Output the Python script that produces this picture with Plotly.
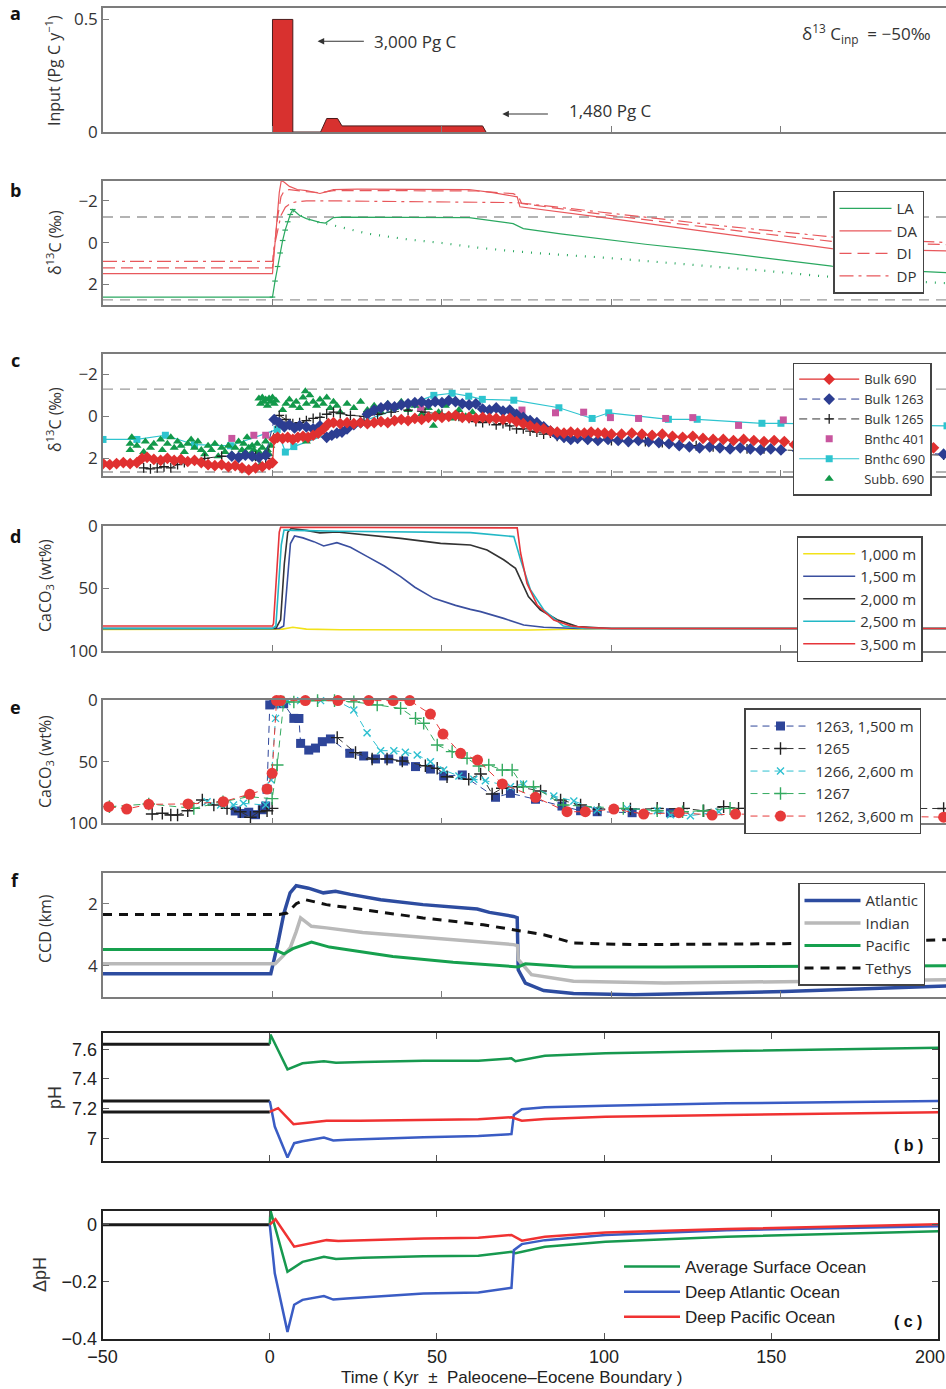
import plotly.graph_objects as go

W, H = 946, 1389
FONT = "Open Sans, Noto Sans, DejaVu Sans, sans-serif"
NARROW = "Liberation Sans, Arial, sans-serif"

# ---------------- DATA ----------------
# (a) carbon input, Pg C / yr
a_time = [0, 0, 6, 6, 14.2, 16, 19.2, 20.5, 62, 63]
a_input = [0, 0.5, 0.5, 0, 0, 0.06, 0.06, 0.027, 0.027, 0]

# (b) modelled d13C
b_la_x = [-50, 0, 0.75, 1.5, 2.25, 3, 3.75, 4.5, 5.25, 6, 8, 10, 12, 14, 15.6, 18, 20, 30, 40, 50, 58, 71, 73, 74, 85, 97.6, 110, 127, 145, 165, 180, 199]
b_la_y = [2.62, 2.62, 1.85, 1.15, 0.5, -0.1, -0.6, -1.0, -1.35, -1.59, -1.3, -1.15, -1.05, -0.97, -0.94, -1.2, -1.22, -1.22, -1.22, -1.22, -1.2, -0.91, -0.75, -0.67, -0.42, -0.16, 0.08, 0.37, 0.72, 1.13, 1.3, 1.45]
b_la_mx = [0, 0.75, 1.5, 2.25, 3, 3.75, 4.5, 5.25, 6]
b_la_my = [2.62, 1.85, 1.15, 0.5, -0.1, -0.6, -1.0, -1.35, -1.59]
b_dot_x = [6, 10, 14, 18, 28, 40, 50, 60.3, 70, 80, 97.6, 110, 127, 145, 162.5, 180, 199]
b_dot_y = [-1.5, -1.15, -0.95, -0.83, -0.43, -0.15, 0.02, 0.24, 0.4, 0.53, 0.72, 0.88, 1.09, 1.35, 1.62, 1.8, 1.95]
b_da_x = [-50, 0, 0.5, 1, 1.5, 2, 2.6, 3.5, 5, 7.3, 10, 12, 14, 16, 18, 25, 40, 58, 65, 71, 72.2, 73, 80, 100, 127, 165, 199]
b_da_y = [1.49, 1.49, 0.5, -0.5, -1.5, -2.4, -2.98, -2.9, -2.7, -2.55, -2.5, -2.42, -2.36, -2.45, -2.55, -2.57, -2.57, -2.55, -2.4, -2.23, -2.2, -1.72, -1.58, -1.15, -0.55, 0.29, 0.4]
b_di_x = [-50, 0, 0.5, 1.5, 2.5, 3.5, 5, 7, 10, 14, 18, 30, 60, 71, 72.5, 73.5, 100, 130, 165, 199]
b_di_y = [1.22, 1.22, 0.3, -1.2, -2.2, -2.5, -2.55, -2.5, -2.45, -2.4, -2.5, -2.5, -2.48, -2.35, -2.25, -1.88, -1.3, -0.7, -0.06, 0.1]
b_dp_x = [-50, 0, 0.5, 1.5, 2.5, 3.8, 5.5, 7, 10, 20, 40, 60, 72, 80, 100, 130, 165, 199]
b_dp_y = [0.9, 0.9, 0.2, -0.6, -1.3, -1.7, -1.9, -1.96, -2.0, -2.0, -1.98, -1.95, -1.92, -1.78, -1.4, -0.85, -0.27, 0.0]
b_ref_levels = [-1.23, 2.75]

# (c) measured d13C
c_b690_x = [-50, -48, -46, -44, -42, -40, -38.5, -37, -35, -33, -31, -29, -27, -25, -23, -21, -19, -17, -15, -13, -11, -9, -7, -5, -3, -1, 0,
            0.5, 1.5, 3, 4.5, 6, 7.5, 9, 10.5, 12, 13.5, 15, 16.5, 18, 20, 22, 24, 26, 28, 30, 32, 34, 36, 38, 40, 42, 44, 46, 48, 50,
            52, 54, 56, 58, 60, 62, 64, 66, 68, 70, 72, 74, 76, 78, 80, 82, 84, 86, 88, 90, 92, 94, 96, 98, 100, 103, 106, 109, 112,
            115, 118, 121, 124, 127, 130, 133, 136, 139, 142, 145, 148, 151, 154, 157, 160, 163, 166, 170, 175, 180, 185, 190, 195]
c_b690_y = [2.25, 2.3, 2.25, 2.2, 2.25, 2.2, 2.0, 1.95, 2.05, 2.1, 2.0, 2.1, 2.05, 2.15, 2.1, 2.2, 2.3, 2.35, 2.3, 2.4, 2.35, 2.45, 2.55, 2.45, 2.4, 2.3, 2.2,
            1.1, 1.0, 1.05, 1.0, 1.1, 1.0, 0.95, 1.0, 0.9, 0.8, 0.6, 0.35, 0.3, 0.35, 0.3, 0.35, 0.3, 0.35, 0.3, 0.25, 0.3, 0.2, 0.15, 0.2, 0.1, 0.15, 0.05, 0.0, 0.05,
            0.0, -0.05, 0.05, 0.05, 0.1, 0.05, 0.1, 0.1, 0.15, 0.1, 0.25, 0.35, 0.45, 0.55, 0.6, 0.7, 0.75, 0.8, 0.75, 0.8, 0.8, 0.75, 0.8, 0.8, 0.85, 0.85, 0.8, 0.85, 0.9,
            0.85, 0.95, 1.0, 0.95, 1.05, 1.1, 1.1, 1.15, 1.1, 1.15, 1.2, 1.15, 1.2, 1.35, 1.4, 1.35, 1.4, 1.45, 1.4, 1.45, 1.4, 1.5, 1.45, 1.5]
c_b1263_x = [-12, -10, -8, -6, -4, -2, 0.5, 2, 3.5, 5, 6.5, 8, 10, 12, 14, 16, 17.5, 19, 20.5, 22, 24, 26, 28, 30, 32, 34, 36, 38, 40, 42, 44, 46, 48,
             50, 52, 54, 56, 58, 60, 62, 64, 66, 68, 70, 72, 74, 76, 78, 80, 82, 84, 86, 88, 90, 93, 96, 99, 102, 105, 108, 111, 114, 117, 120,
             123, 126, 129, 132, 135, 138, 141, 144, 147, 150, 155, 160, 165, 170, 175, 180, 190, 198]
c_b1263_y = [1.9, 1.95, 1.85, 1.9, 1.95, 1.85, 0.15, 0.3, 0.5, 0.4, 0.55, 0.45, 0.5, 0.6, 0.45, 1.0, 0.9, 0.8, 0.75, 0.6, 0.4, 0.3, -0.1, -0.3, -0.4, -0.5, -0.45, -0.55, -0.6, -0.65, -0.7, -0.6, -0.7,
             -0.65, -0.75, -0.7, -0.6, -0.55, -0.6, -0.35, -0.3, -0.4, -0.25, -0.3, -0.1, 0.05, 0.2, 0.3, 0.5, 0.7, 0.9, 1.0, 1.1, 1.05, 1.1, 1.15, 1.1, 1.15, 1.2, 1.15, 1.2, 1.25, 1.3, 1.4,
             1.45, 1.5, 1.45, 1.5, 1.55, 1.5, 1.55, 1.6, 1.55, 1.6, 1.65, 1.6, 1.65, 1.7, 1.65, 1.7, 1.75, 1.8]
c_b1265_x = [-38, -36, -34, -32, -30, -28, -26, -20, -15, -10, -5, -2, 2, 4, 6, 8, 10, 12, 14, 16, 18, 20, 23, 27, 31, 35, 40, 45, 50, 55, 58, 60,
             62, 64, 66, 68, 70, 72, 74, 76, 78, 80, 82, 84, 86, 88, 90, 93, 96, 100, 105, 110, 115, 120, 125, 130, 135, 140, 145, 150, 160, 170, 180, 190, 198]
c_b1265_y = [2.45, 2.5, 2.45, 2.4, 2.45, 2.3, 2.2, 2.0, 1.9, 1.95, 1.9, 2.0, -0.05, 0.15, 0.35, 0.3, 0.2, 0.1, 0.05, -0.1, -0.2, -0.15, -0.05, 0.0, -0.1, -0.2, -0.3, -0.2, -0.1, 0.0, 0.1, 0.25,
             0.3, 0.2, 0.4, 0.35, 0.45, 0.6, 0.6, 0.7, 0.75, 0.85, 0.8, 0.95, 1.0, 1.05, 1.0, 1.1, 1.1, 1.15, 1.2, 1.2, 1.25, 1.35, 1.4, 1.45, 1.5, 1.55, 1.55, 1.6, 1.65, 1.7, 1.75, 1.8, 1.85]
c_bn401_x = [-12, -5.5, -2, 29.4, 43.7, 73.6, 83.5, 91.8, 99.7, 108, 116, 124, 137.5, 150.7]
c_bn401_y = [1.05, 0.9, 0.9, -0.22, -0.4, -0.3, -0.17, -0.2, 0.06, 0.1, 0.1, 0.06, 0.43, 0.17]
c_bn690_x = [-50, -40, -31.6, -23, -12.4, 1.4, 3.8, 6.3, 47.6, 53, 57.9, 61.9, 71.2, 84.5, 94.3, 99.2, 116.8, 125.3, 144.4, 150, 175, 199]
c_bn690_y = [1.1, 1.1, 0.9, 1.35, 1.4, 0.62, 1.7, 1.44, -1.0, -1.1, -0.96, -0.81, -0.77, -0.41, 0.1, -0.17, 0.14, 0.14, 0.33, 0.33, 0.4, 0.45]
c_sub690_x = [-42, -42, -41.5, -40, -38, -37.5, -36, -35, -33, -32.5, -31, -30, -29, -28, -27, -26, -25, -24, -23, -22, -21, -20, -19, -18, -17,
              -16, -15, -14, -13, -12, -11, -10, -9.5, -9, -8.5, -8, -7.5, -7, -6.5, -6, -5.5, -5, -4.5, -4, -3.5, -3, -2.5, -2, -1.5, -1, -0.5,
              -4, -3.5, -3, -2.5, -2, -1.5, -1, -0.5, 0, 0.5, 1, 3, 4, 5, 6, 7, 8, 9, 9.7, 10, 10, 11, 12, 13, 14, 15, 16, 17, 18, 19, 20, 22, 24, 26,
              28, 30, 32, 34, 36, 38, 40, 42, 44, 46, 47.5, 49, 51, 53, 55, 57, 59]
c_sub690_y = [1.3, 1.6, 1.0, 1.4, 1.7, 1.2, 1.5, 1.3, 1.1, 1.6, 1.3, 1.0, 1.5, 1.2, 1.4, 1.7, 1.3, 1.1, 1.5, 1.2, 1.6, 1.8, 1.4, 1.6, 1.3,
              1.9, 1.5, 1.7, 1.4, 1.8, 1.5, 1.2, 1.9, 1.6, 1.3, 1.7, 1.0, 1.5, 1.8, 1.4, 1.6, 2.0, 1.3, 1.7, 2.3, 1.5, 1.9, 1.2, 1.6, 1.8, 1.4,
              -0.85, -0.6, -0.9, -0.7, -0.8, -0.5, -0.85, -0.7, -0.9, -0.6, -0.75, -0.3, -0.6, -0.8, -0.5, -0.7, -0.4, -0.9, -1.2, -0.6, 1.2, -1.0, -0.7, -0.5, -0.8, -0.6, -0.9, -0.4, -0.7, -0.5, -0.2, -0.6, -0.4, -0.7,
              -0.3, -0.5, -0.2, -0.6, -0.4, -0.7, -0.3, -0.5, -0.1, -0.4, 0.45, -0.2, -0.5, 0.1, -0.3, 0.0, -0.2]
c_ref_levels = [-1.3, 2.65]

# (d) modelled CaCO3 wt%
d_1000_x = [-50, 0, 3, 6, 10, 20, 40, 60, 76, 100, 150, 199]
d_1000_y = [82.7, 82.7, 82.5, 81.0, 82.5, 83, 83.2, 83.2, 83.2, 82, 82, 82]
d_1500_x = [-50, 0, 2, 3.3, 4.3, 5.3, 6.5, 9, 12.2, 15.1, 19, 23, 28, 33, 37.8, 42, 47.6, 54, 58.4, 61.4, 68.2, 74.1, 80, 90, 120, 199]
d_1500_y = [82, 82, 82, 80, 45, 14, 8, 9.5, 12.5, 16, 13.3, 17, 24.5, 32, 40.5, 49, 57.9, 63.5, 66.7, 68.5, 73.9, 79.2, 81, 82, 82, 82]
d_2000_x = [-50, 0, 1, 2.4, 3.5, 4.5, 5.5, 10, 14, 19, 30, 37.8, 49.6, 58.4, 63.3, 68.2, 71.7, 73.2, 75.5, 79, 84, 89.9, 100, 199]
d_2000_y = [82, 82, 82, 75, 30, 5, 2, 3.5, 5.5, 4.8, 7.5, 9.9, 13.9, 15.2, 19.2, 27, 33.9, 43, 56.5, 67, 75, 80.5, 82, 82]
d_2500_x = [-50, 0, 1.0, 1.8, 2.6, 3.4, 6, 20, 40, 58.4, 71.2, 73.2, 76.1, 80, 85.8, 92, 199]
d_2500_y = [82, 82, 80, 50, 15, 3.2, 3.5, 4.2, 4.8, 5.3, 8.5, 27, 51, 67, 80, 82, 82]
d_3500_x = [-50, 0, 0.3, 1.2, 2.0, 2.4, 10, 30, 50, 70, 72.2, 73.2, 75.1, 78.1, 83, 88, 92.8, 100, 199]
d_3500_y = [80, 80, 78, 40, 5, 1, 1, 1, 1, 1, 1.5, 21.6, 45.9, 63.2, 75.2, 80, 81.3, 82, 82]

# (e) measured CaCO3 wt%
e_1263_x = [-11, -9, -7, -5, -3, -2, -1.6, -0.8, 0.4, 1.9, 3.3, 6.3, 7.8, 8.3, 10.7, 12.7, 14.7, 17.1, 22.8, 26.9, 30.4, 34.3, 38.7, 42.2, 46.6, 50.5, 56.0, 65.8, 70.2, 77.6, 85.4, 90.9, 95.8, 106.1, 117.4]
e_1263_y = [90, 92, 91, 93, 89, 86, 72.4, 4.0, 3.2, 2.4, 3.0, 14.9, 15.0, 35.2, 40.6, 39.0, 33.8, 31.6, 43.2, 45.4, 47.8, 47.8, 49.5, 54.0, 56.0, 61.6, 60.8, 78.9, 75.7, 80.5, 86.0, 89.8, 90.6, 91.4, 91.4]
e_1265_x = [-35.5, -32.5, -30, -28, -25, -20.7, -17.3, -13.4, -9.5, -6.5, -3.9, -1.6, -0.1, None, 19.1, 24.5, 29.4, 33.8, 38.3, 45.1, 48.6, 51.5, 57.9, 61.4, 64.8, 67.8, 72.2, 79.1, 85.0, 90.9, 96.3, 105.6, 113.5, 121.3, 127.2, 133.1, 137.5, 198]
e_1265_y = [92.5, 91.9, 93.3, 93.3, 89.8, 81.1, 85.2, 87.9, 90.6, 95.1, 90.6, 89.8, 87.9, None, 30.5, 42.7, 47.8, 47.8, 49.5, 53.3, 55.4, 62.2, 64.3, 60.0, 76.2, 71.6, 70.3, 73.8, 81.1, 85.2, 88.6, 88.4, 87.9, 87.9, 89.8, 86.5, 87.9, 88]
e_1266_x = [-19.3, -15.3, -11.5, -8.6, -2.0, -0.4, 0.9, 1.9, 4.3, 8.3, 14.2, 19.0, 24.0, 27.9, 31.9, 35.8, 39.2, 42.7, 46.6, 50.5, 55.0, 59.4, 62.8, 70.2, 74.1, 83.0, 88.9, 95.8, 104.6, 113.5, 117.4, 123.3, 131.7]
e_1266_y = [82.5, 85.2, 85.2, 83.8, 85.2, 64.9, 14.9, 3.2, 1.3, 0.5, 0.5, 0.5, 8.1, 26.5, 41.1, 41.1, 42.4, 44.6, 50.0, 56.8, 61.6, 64.3, 65.4, 70.3, 68.1, 77.9, 81.9, 89.2, 87.9, 89.8, 93.0, 93.8, 90.6]
e_1267_x = [-48.1, -36.5, -23.2, -14.6, -7.0, -0.1, 1.4, 3.3, 6.3, 13.3, 18.3, 24.0, 30.9, 37.8, 42.2, 44.6, 48.6, 53.0, 57.4, 60.9, 63.8, 67.8, 70.7, 74.0, 77.0, 85.8, 103.5, 113.5, 121.0, 127.0, 135.0]
e_1267_y = [86.5, 84.3, 87.9, 82.5, 78.4, 80.0, 52.7, 1.6, 1.6, 0.5, 0.5, 1.5, 4.0, 6.8, 14.9, 18.9, 36.5, 41.9, 47.3, 53.5, 52.7, 56.8, 56.8, 70.3, 70.3, 85.2, 87.9, 89.8, 90.6, 89.8, 87.9]
e_1262_x = [-48.3, -43, -36.5, -24.9, -14.5, -6.7, -1.6, -0.1, 1.2, 2.4, 9.7, 19.3, 28.4, 35.6, 40.5, 46.6, 50.3, 55.5, 60.5, 67.8, 77.6, 86.9, 92.3, 100.7, 109.5, 119.9, 129.7, 136.6, 198]
e_1262_y = [86.5, 88.4, 84.6, 84.3, 82.5, 76.5, 72.2, 59.5, 0.5, 0.5, 0.5, 0.5, 0.5, 0.5, 0.5, 11.4, 27.6, 43.2, 48.7, 68.1, 78.9, 90.6, 90.6, 88.5, 92.5, 91.4, 93.3, 92.5, 95]

# (f) CCD depth, km
f_atl_x = [-50, -0.5, 1.6, 3.4, 5.2, 7, 10.6, 15, 18.6, 23, 31.9, 44.4, 60.4, 64, 71.1, 72.2, 72.5, 74.6, 80, 88.8, 106.7, 151, 199]
f_atl_y = [4.26, 4.26, 3.27, 2.3, 1.65, 1.42, 1.5, 1.65, 1.6, 1.7, 1.87, 2.03, 2.17, 2.28, 2.41, 2.45, 4.13, 4.56, 4.8, 4.9, 4.94, 4.83, 4.65]
f_ind_x = [-50, 0.8, 3, 5.2, 7, 8.3, 11.5, 15.9, 26.6, 44.3, 62.2, 71.1, 72.3, 72.5, 76.4, 88.8, 115.6, 154.7, 199]
f_ind_y = [3.94, 3.94, 3.7, 3.43, 2.9, 2.46, 2.73, 2.78, 2.93, 3.08, 3.22, 3.32, 3.35, 3.8, 4.29, 4.5, 4.56, 4.5, 4.45]
f_pac_x = [-50, 0.5, 3.4, 6, 11.5, 16.8, 21.2, 35.5, 53.3, 72.5, 74.6, 88.8, 115.6, 199]
f_pac_y = [3.48, 3.48, 3.62, 3.45, 3.24, 3.4, 3.47, 3.7, 3.89, 4.04, 3.94, 4.04, 4.04, 4.0]
f_teth_x = [-50, 2.0, 4.3, 7, 9.7, 15.9, 26.6, 44.4, 62.2, 71.1, 80, 88.9, 106.7, 151, 199]
f_teth_y = [2.35, 2.35, 2.3, 2.0, 1.87, 2.03, 2.19, 2.46, 2.68, 2.84, 3.0, 3.27, 3.32, 3.29, 3.16]

# (pH) absolute pH
pre_x = [-50, 0]
ph_pre_surf = [7.634, 7.634]
ph_pre_atl = [7.252, 7.252]
ph_pre_pac = [7.178, 7.178]
ph_surf_x = [0, 0.2, 5.3, 9.8, 16.2, 19.8, 27.9, 46, 62.4, 72.3, 73.5, 82.3, 100.4, 136.7, 200]
ph_surf_y = [7.634, 7.70, 7.465, 7.506, 7.52, 7.51, 7.515, 7.523, 7.523, 7.539, 7.52, 7.557, 7.573, 7.589, 7.611]
ph_atl_x = [0, 1.5, 5.3, 7.3, 9.8, 16.2, 19, 23, 46, 62.4, 72.3, 73, 75.4, 82.3, 100.4, 136.7, 200]
ph_atl_y = [7.252, 7.079, 6.87, 6.967, 6.98, 7.005, 6.985, 6.99, 7.007, 7.016, 7.028, 7.157, 7.196, 7.21, 7.22, 7.236, 7.252]
ph_pac_x = [0, 2.5, 7.1, 17, 27, 46, 62.4, 72.3, 75.4, 82.3, 100.4, 136.7, 200]
ph_pac_y = [7.178, 7.203, 7.095, 7.119, 7.118, 7.124, 7.128, 7.142, 7.119, 7.13, 7.146, 7.157, 7.176]

# (dpH) change in pH
dph_pre = [0, 0]
dph_surf_x = [0, 0.2, 5.3, 9.8, 16.2, 19.8, 27.9, 46, 62.4, 72.3, 73.5, 82.3, 100.4, 136.7, 200]
dph_surf_y = [0, 0.05, -0.165, -0.13, -0.112, -0.12, -0.116, -0.11, -0.109, -0.095, -0.1, -0.077, -0.06, -0.042, -0.023]
dph_atl_x = [0, 1.5, 5.3, 7.3, 9.8, 16.2, 19, 23, 46, 62.4, 72.3, 73, 75.4, 82.3, 100.4, 136.7, 200]
dph_atl_y = [0, -0.17, -0.375, -0.28, -0.263, -0.25, -0.262, -0.258, -0.241, -0.237, -0.221, -0.089, -0.068, -0.054, -0.036, -0.019, -0.005]
dph_pac_x = [0, 1.7, 7.3, 17, 20.5, 46, 62.4, 72.3, 75.4, 82.3, 100.4, 136.7, 200]
dph_pac_y = [0, 0.019, -0.077, -0.054, -0.057, -0.048, -0.046, -0.036, -0.056, -0.042, -0.027, -0.015, 0.002]

x_ticks_top = [0, 50, 100, 150]
x_ticks_bottom = [-50, 0, 50, 100, 150, 200]
x_ticklabels_bottom = ["−50", "0", "50", "100", "150", ""]
x_last_label = "200"

# ---------------- FIGURE ----------------
fig = go.Figure()


def ax(k):
    return ("x" if k == 1 else f"x{k}"), ("y" if k == 1 else f"y{k}")


def add(k, **kw):
    xa, ya = ax(k)
    kw.setdefault("showlegend", False)
    fig.add_trace(go.Scatter(xaxis=xa, yaxis=ya, **kw))


# (a)
add(1, x=a_time, y=a_input, mode="lines", fill="tozeroy", fillcolor="#d8312f",
    line=dict(color="#4a1a1a", width=1))

# (b)
for lv in b_ref_levels:
    add(2, x=[-50, 200], y=[lv, lv], mode="lines", line=dict(color="#9a9a9a", width=1.3, dash="10px,7px"))
add(2, x=b_dot_x, y=b_dot_y, mode="lines", line=dict(color="#2aa860", width=2.2, dash="1px,8px"))
add(2, x=b_la_mx, y=b_la_my, mode="markers",
    marker=dict(symbol="line-ew", size=4, color="#2aa860", line=dict(color="#2aa860", width=1.2)))
add(2, x=b_la_x, y=b_la_y, mode="lines", name="LA", showlegend=True, legend="legend",
    line=dict(color="#2aa860", width=1.2))
add(2, x=b_da_x, y=b_da_y, mode="lines", name="DA", showlegend=True, legend="legend",
    line=dict(color="#e8585c", width=1.2))
add(2, x=b_di_x, y=b_di_y, mode="lines", name="DI", showlegend=True, legend="legend",
    line=dict(color="#e8585c", width=1.2, dash="12px,6px"))
add(2, x=b_dp_x, y=b_dp_y, mode="lines", name="DP", showlegend=True, legend="legend",
    line=dict(color="#e8585c", width=1.2, dash="14px,5px,3px,5px"))

# (c)
for lv in c_ref_levels:
    add(3, x=[-50, 200], y=[lv, lv], mode="lines", line=dict(color="#9a9a9a", width=1.3, dash="10px,7px"))
add(3, x=c_bn690_x, y=c_bn690_y, mode="lines+markers", name="Bnthc 690", showlegend=True, legend="legend2",
    legendrank=5, line=dict(color="#2ec4cf", width=1.2), marker=dict(symbol="square", size=7, color="#2ec4cf"))
add(3, x=c_bn401_x, y=c_bn401_y, mode="markers", name="Bnthc 401", showlegend=True, legend="legend2",
    legendrank=4, marker=dict(symbol="square", size=7, color="#c8559e"))
add(3, x=c_sub690_x, y=c_sub690_y, mode="markers", name="Subb. 690", showlegend=True, legend="legend2",
    legendrank=6, marker=dict(symbol="triangle-up", size=8, color="#12994a"))
add(3, x=c_b1265_x, y=c_b1265_y, mode="lines+markers", name="Bulk 1265", showlegend=True, legend="legend2",
    legendrank=3, line=dict(color="#333333", width=1, dash="8px,5px"),
    marker=dict(symbol="cross-thin", size=7, color="#222", line=dict(color="#222", width=1.3)))
add(3, x=c_b1263_x, y=c_b1263_y, mode="lines+markers", name="Bulk 1263", showlegend=True, legend="legend2",
    legendrank=2, line=dict(color="#2c3d91", width=1, dash="8px,5px"),
    marker=dict(symbol="diamond", size=9, color="#2c3d91"))
add(3, x=c_b690_x, y=c_b690_y, mode="lines+markers", name="Bulk 690", showlegend=True, legend="legend2",
    legendrank=1, line=dict(color="#e03030", width=1.2),
    marker=dict(symbol="diamond", size=9, color="#e03030"))

# (d)
for xs, ys, nm, col in [(d_1000_x, d_1000_y, "1,000 m", "#f2e21a"),
                        (d_1500_x, d_1500_y, "1,500 m", "#3a4f9f"),
                        (d_2000_x, d_2000_y, "2,000 m", "#333333"),
                        (d_2500_x, d_2500_y, "2,500 m", "#22b8c6"),
                        (d_3500_x, d_3500_y, "3,500 m", "#e6353a")]:
    add(4, x=xs, y=ys, mode="lines", name=nm, showlegend=True, legend="legend3",
        line=dict(color=col, width=1.6))

# (e)
EDASH = "7px,5px"
add(5, x=e_1263_x, y=e_1263_y, mode="lines+markers", name="1263, 1,500 m", showlegend=True, legend="legend4",
    cliponaxis=False, line=dict(color="#2e4599", width=1, dash=EDASH),
    marker=dict(symbol="square", size=9, color="#2e4599"))
add(5, x=e_1265_x, y=e_1265_y, mode="lines+markers", name="1265", showlegend=True, legend="legend4",
    cliponaxis=False, line=dict(color="#333", width=1, dash=EDASH),
    marker=dict(symbol="cross-thin", size=9, color="#222", line=dict(color="#222", width=1.4)))
add(5, x=e_1266_x, y=e_1266_y, mode="lines+markers", name="1266, 2,600 m", showlegend=True, legend="legend4",
    cliponaxis=False, line=dict(color="#2ec0d0", width=1, dash=EDASH),
    marker=dict(symbol="x-thin", size=7, color="#2ec0d0", line=dict(color="#2ec0d0", width=1.4)))
add(5, x=e_1267_x, y=e_1267_y, mode="lines+markers", name="1267", showlegend=True, legend="legend4",
    cliponaxis=False, line=dict(color="#34aa60", width=1, dash=EDASH),
    marker=dict(symbol="cross-thin", size=9, color="#34aa60", line=dict(color="#34aa60", width=1.4)))
add(5, x=e_1262_x, y=e_1262_y, mode="lines+markers", name="1262, 3,600 m", showlegend=True, legend="legend4",
    cliponaxis=False, line=dict(color="#e63a3a", width=1, dash=EDASH),
    marker=dict(symbol="circle", size=11, color="#e63a3a"))

# (f)
add(6, x=f_atl_x, y=f_atl_y, mode="lines", name="Atlantic", showlegend=True, legend="legend5",
    line=dict(color="#2d4ca0", width=3.5))
add(6, x=f_ind_x, y=f_ind_y, mode="lines", name="Indian", showlegend=True, legend="legend5",
    line=dict(color="#b9b9b9", width=3.5))
add(6, x=f_pac_x, y=f_pac_y, mode="lines", name="Pacific", showlegend=True, legend="legend5",
    line=dict(color="#16a04e", width=3))
add(6, x=f_teth_x, y=f_teth_y, mode="lines", name="Tethys", showlegend=True, legend="legend5",
    line=dict(color="#111", width=3, dash="9px,7px"))

# (pH)
for ys in (ph_pre_surf, ph_pre_atl, ph_pre_pac):
    add(7, x=pre_x, y=ys, mode="lines", line=dict(color="#1a1a1a", width=3))
add(7, x=ph_surf_x, y=ph_surf_y, mode="lines", line=dict(color="#17994f", width=2.5))
add(7, x=ph_atl_x, y=ph_atl_y, mode="lines", line=dict(color="#3a5cc4", width=2.5))
add(7, x=ph_pac_x, y=ph_pac_y, mode="lines", line=dict(color="#f03232", width=2.5))

# (dpH)
add(8, x=pre_x, y=dph_pre, mode="lines", line=dict(color="#1a1a1a", width=3))
add(8, x=dph_surf_x, y=dph_surf_y, mode="lines", name="Average Surface Ocean", showlegend=True,
    legend="legend6", line=dict(color="#17994f", width=2.5))
add(8, x=dph_atl_x, y=dph_atl_y, mode="lines", name="Deep Atlantic Ocean", showlegend=True,
    legend="legend6", line=dict(color="#3a5cc4", width=2.5))
add(8, x=dph_pac_x, y=dph_pac_y, mode="lines", name="Deep Pacific Ocean", showlegend=True,
    legend="legend6", line=dict(color="#f03232", width=2.5))

# ---------------- LAYOUT ----------------
panel_px = {1: (7.5, 132), 2: (181, 305), 3: (354, 476), 4: (526, 651), 5: (700, 823.3),
            6: (872.7, 996.7), 7: (1033.3, 1160.7), 8: (1210.7, 1339)}
yranges = {1: [0, 0.553], 2: [3.0, -2.96], 3: [2.84, -2.97], 4: [100, 0], 5: [100, 0],
           6: [5.0, 1.0], 7: [6.849, 7.708], 8: [-0.4, 0.049]}
yticks = {1: ([0, 0.5], ["0", "0.5"]), 2: ([-2, 0, 2], ["−2", "0", "2"]), 3: ([-2, 0, 2], ["−2", "0", "2"]),
          4: ([0, 50, 100], ["0", "50", "100"]), 5: ([0, 50, 100], ["0", "50", "100"]),
          6: ([2, 4], ["2", "4"]), 7: ([7, 7.2, 7.4, 7.6], ["7", "7.2", "7.4", "7.6"]),
          8: ([-0.4, -0.2, 0], ["−0.4", "−0.2", "0"])}

layout = dict(width=W, height=H, margin=dict(l=0, r=0, t=0, b=0, autoexpand=False),
              paper_bgcolor="white", plot_bgcolor="white", font=dict(family=FONT, color="#333"))

TOPCOL = "#7c7c7c"
for k in range(1, 9):
    top, bot = panel_px[k]
    xs = "xaxis" if k == 1 else f"xaxis{k}"
    ys = "yaxis" if k == 1 else f"yaxis{k}"
    xa, ya = ax(k)
    if k <= 6:
        layout[xs] = dict(domain=[103 / W, 1.0], range=[-50, 198.7], anchor=ya, showline=True, mirror=True,
                          linecolor=TOPCOL, linewidth=1.5, ticks="inside", tickvals=x_ticks_top, ticklen=6,
                          tickcolor=TOPCOL, tickwidth=1.3, showticklabels=False, showgrid=False, zeroline=False)
        layout[ys] = dict(domain=[1 - bot / H, 1 - top / H], range=yranges[k], anchor=xa, showline=True,
                          mirror=False, linecolor=TOPCOL, linewidth=1.5, ticks="inside", ticklen=6,
                          tickcolor=TOPCOL, tickwidth=1.3, tickvals=yticks[k][0], ticktext=yticks[k][1],
                          tickfont=dict(size=17, color="#333", family=FONT), showgrid=False, zeroline=False)
    else:
        layout[xs] = dict(domain=[102.6 / W, 938.4 / W], range=[-50, 200], anchor=ya, showline=True,
                          mirror="ticks", linecolor="#222", linewidth=2, ticks="inside", tickvals=x_ticks_bottom,
                          ticktext=x_ticklabels_bottom, ticklen=6, tickcolor="#555",
                          showticklabels=(k == 8), tickfont=dict(size=18, color="#222", family=NARROW),
                          showgrid=False, zeroline=False)
        layout[ys] = dict(domain=[1 - bot / H, 1 - top / H], range=yranges[k], anchor=xa, showline=True,
                          mirror="ticks", linecolor="#222", linewidth=2, ticks="inside", ticklen=6,
                          tickcolor="#555", tickvals=yticks[k][0], ticktext=yticks[k][1],
                          tickfont=dict(size=18, color="#222", family=NARROW), showgrid=False, zeroline=False)


def legend_box(left, top, size=15, border=True, iw=52):
    return dict(x=left / W, y=1 - top / H, xanchor="left", yanchor="top", bgcolor="white",
                bordercolor="#444" if border else "rgba(0,0,0,0)", borderwidth=1.5 if border else 0,
                font=dict(size=size, color="#333", family=FONT), tracegroupgap=0, itemwidth=iw)


layout["legend"] = legend_box(833, 190.7)
layout["legend2"] = legend_box(792.7, 362.7, size=13, iw=60)
layout["legend3"] = legend_box(796.7, 536)
layout["legend4"] = legend_box(744, 708.3, iw=60)
layout["legend5"] = legend_box(798, 882.7, iw=56)
leg6 = legend_box(619, 1249, size=18, border=False, iw=56)
leg6["font"] = dict(size=17, color="#222", family=NARROW)
leg6["bgcolor"] = "rgba(255,255,255,0)"
layout["legend6"] = leg6


def pann(txt, xp, yp, size, fam=FONT, color="#333", angle=0):
    return dict(x=xp / W, y=1 - yp / H, xref="paper", yref="paper", text=txt, textangle=angle,
                xanchor="center", yanchor="middle", showarrow=False,
                font=dict(size=size, color=color, family=fam))


ann = []
for letter, ypx in [("a", 13), ("b", 190), ("c", 360), ("d", 536), ("e", 707), ("f", 880)]:
    ann.append(pann(f"<b>{letter}</b>", 15, ypx, 18, color="#111"))
for txt, xp, yp, fam, sz in [("Input (Pg C y<sup>−1</sup>)", 53, 71, FONT, 16),
                             ("δ<sup>13</sup>C (‰)", 54, 243, FONT, 16),
                             ("δ<sup>13</sup>C (‰)", 54, 420, FONT, 16),
                             ("CaCO<sub>3</sub> (wt%)", 45, 586, FONT, 16),
                             ("CaCO<sub>3</sub> (wt%)", 45, 762, FONT, 16),
                             ("CCD (km)", 45, 929, FONT, 16),
                             ("pH", 55, 1098, NARROW, 18),
                             ("ΔpH", 40, 1275, NARROW, 18)]:
    ann.append(pann(txt, xp, yp, sz, fam=fam, angle=-90))

# panel (a) arrows and labels
ann.append(dict(x=13.3, y=0.403, ax=27.4, ay=0.403, xref="x", yref="y", axref="x", ayref="y", text="",
                showarrow=True, arrowhead=2, arrowsize=1.1, arrowwidth=1.2, arrowcolor="#333"))
ann.append(dict(x=29.5, y=0.403, xref="x", yref="y", text="3,000 Pg C", showarrow=False, xanchor="left",
                yanchor="middle", font=dict(size=17, color="#333", family=FONT)))
ann.append(dict(x=67.8, y=0.08, ax=81.7, ay=0.08, xref="x", yref="y", axref="x", ayref="y", text="",
                showarrow=True, arrowhead=2, arrowsize=1.1, arrowwidth=1.2, arrowcolor="#333"))
ann.append(dict(x=87.0, y=0.097, xref="x", yref="y", text="1,480 Pg C", showarrow=False, xanchor="left",
                yanchor="middle", font=dict(size=17, color="#333", family=FONT)))
a_lab = pann("δ<sup>13</sup> C<sub>inp</sub>  = −50‰", 800, 33, 17)
a_lab["xanchor"] = "left"
ann.append(a_lab)
# bottom labels
ann.append(pann("<b>( b )</b>", 908, 1145, 16, fam=NARROW, color="#111"))
ann.append(pann("<b>( c )</b>", 908, 1321, 16, fam=NARROW, color="#111"))
ann.append(pann("Time ( Kyr  ±  Paleocene–Eocene Boundary )", 511, 1377, 17, fam=NARROW, color="#222"))
ann.append(pann(x_last_label, 930, 1357, 18, fam=NARROW, color="#222"))
layout["annotations"] = ann

fig.update_layout(**layout)
fig.write_html("out.html")
